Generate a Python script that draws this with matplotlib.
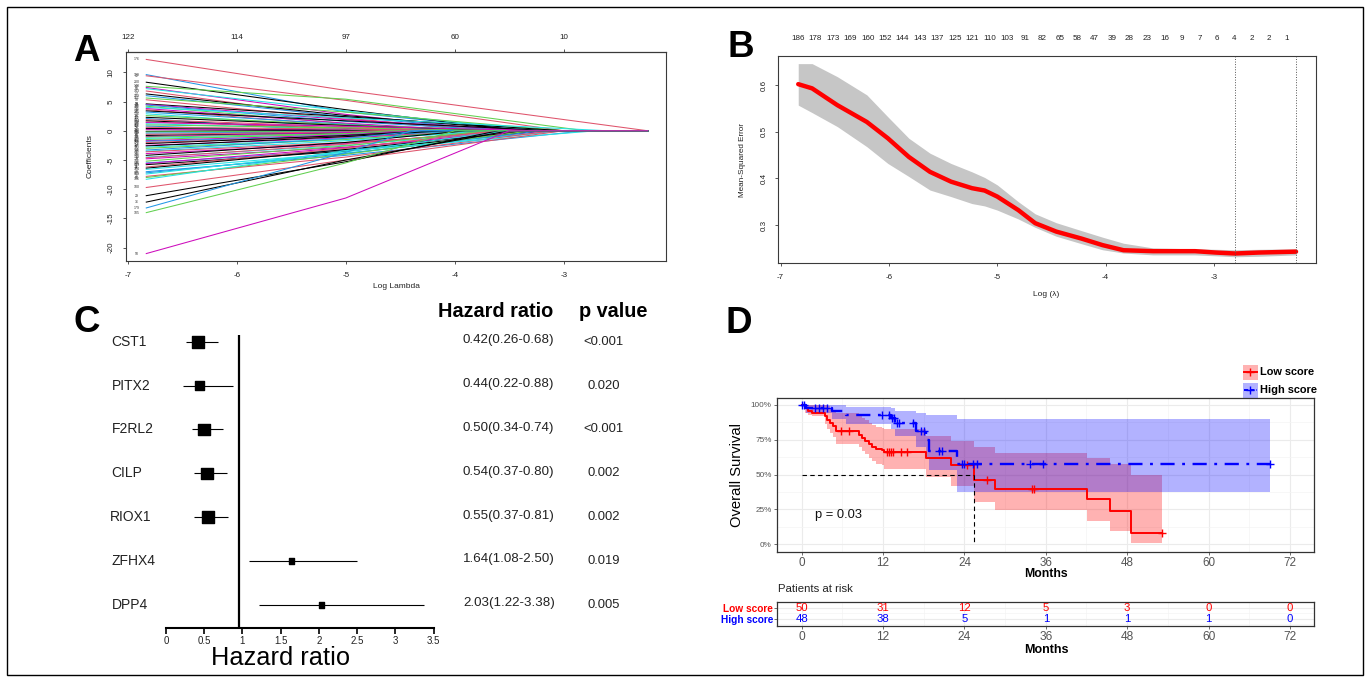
#!/usr/bin/env python3
"""Four-panel figure: LASSO paths, CV error, Cox forest plot and KM curves."""

import matplotlib
matplotlib.use("Agg")
import matplotlib.pyplot as plt
import numpy as np
from matplotlib.patches import Rectangle
from matplotlib.ticker import MultipleLocator
from matplotlib.transforms import blended_transform_factory

plt.rcParams["font.family"] = ["Liberation Sans", "DejaVu Sans"]
plt.rcParams["axes.unicode_minus"] = False

# ---------------- panel A: lasso coefficient paths ----------------
LASSO_FIRST = -6.83
LASSO_LAST = -2.23
COEF_START = [12.2, 9.6, 9.4, 8.3, 7.6, 7.4, 7.2, 6.8, 6.3, 6.0, 5.6, 5.3, 4.6, 4.5, 4.4, 4.2,
              4.0, 3.8, 3.6, 3.4, 3.2, 2.9, 2.6, 2.3, 2.1, 1.9, 1.7, 1.5, 1.4, 1.2, 1.0, 0.8,
              0.6, 0.4, 0.2, 0.0, -0.1, -0.2, -0.4, -0.6, -0.8, -1.0, -1.1, -1.3, -1.5, -1.7,
              -1.8, -2.0, -2.2, -2.5, -2.6, -2.8, -3.0, -3.3, -3.5, -3.6, -3.9, -4.2, -4.5,
              -4.6, -4.8, -5.2, -5.5, -5.6, -5.8, -6.2, -6.4, -6.6, -7.0, -7.2, -7.4, -7.8,
              -8.0, -8.3, -9.7, -11.1, -12.2, -13.2, -14.0, -21.0]
COEF_AT_M5 = [6.9, 3.2, 5.2, 3.6, 5.4, 2.8, 3.4, 2.2, 2.6, 2.4, 3.2, 2.0, 2.4, 1.9, 1.6, 1.2,
              2.2, 1.3, 0.9, 1.7, 1.1, 0.6, 1.0, 0.9, 0.0, 0.7, 0.4, 0.5, 0.8, 0.3, 0.5, 0.0,
              0.3, 0.1, 0.1, 0.0, 0.0, -0.1, -0.2, -0.2, -0.4, -0.3, -0.5, -0.6, -0.5, -0.7,
              -0.9, -1.0, -0.8, -1.2, -1.0, -1.4, -1.5, -1.3, -1.7, -2.0, -2.2, -2.0, -2.5,
              -2.3, -2.8, -2.6, -3.3, -2.9, -3.5, -3.0, -3.2, -3.8, -4.2, -3.9, -3.6, -4.5,
              -4.0, -3.4, -5.0, -5.3, -5.0, -3.7, -5.5, -11.5]
COEF_ZERO_AT = [-2.23, -3.3, -3.0, -3.4, -2.8, -3.6, -3.2, -3.8, -3.3, -3.5, -3.0, -3.6, -3.0,
                -3.3, -3.5, -4.0, -2.6, -3.8, -4.2, -3.1, -3.9, -4.3, -3.5, -3.6, -5.2, -4.0,
                -4.5, -4.1, -3.2, -4.6, -3.6, -5.4, -4.0, -4.9, -3.4, -6.0, -5.8, -4.5, -3.8,
                -4.7, -3.5, -4.4, -4.0, -3.9, -4.6, -4.3, -3.7, -3.3, -4.2, -3.6, -4.1, -3.4,
                -3.8, -4.3, -3.7, -3.2, -3.5, -3.9, -3.4, -3.6, -3.1, -3.7, -3.0, -3.4, -3.2,
                -3.6, -3.3, -3.0, -2.8, -3.2, -3.5, -3.1, -3.3, -2.7, -3.0, -3.6, -3.5, -4.4,
                -4.0, -3.5]
COEF_LABELS = [176, 129, 12, 200, 148, 57, 88, 143, 17, 189, 161, 99, 33, 58, 72, 190, 64, 121,
               9, 45, 141, 136, 81, 90, 112, 27, 154, 170, 93, 40, 167, 118, 6, 75, 183, 52, 41,
               101, 139, 22, 68, 195, 25, 14, 127, 116, 86, 158, 3, 110, 47, 61, 172, 38, 180,
               97, 145, 19, 133, 8, 70, 186, 48, 149, 123, 11, 66, 164, 79, 131, 151, 31, 55,
               106, 100, 29, 36, 179, 105, 50]
COEF_COLOR_IDX = [1, 3, 1, 0, 2, 5, 4, 1, 0, 3, 2, 1, 0, 5, 3, 2, 4, 5, 1, 0, 3, 4, 2, 0, 3, 1,
                  0, 1, 5, 4, 2, 3, 1, 0, 5, 4, 0, 2, 3, 1, 0, 5, 2, 4, 2, 5, 3, 1, 0, 5, 0, 4,
                  2, 3, 4, 1, 5, 0, 4, 1, 5, 2, 3, 5, 0, 1, 0, 4, 3, 3, 4, 1, 2, 4, 1, 0, 0, 3,
                  2, 5]
TOP_A_TICKS = [-7, -6, -5, -4, -3]
TOP_A_LABELS = ["122", "114", "97", "60", "10"]

# ---------------- panel B: cross-validated error ----------------
CV_LOG_LAMBDA = [-6.837, -6.709, -6.476, -6.204, -6.01, -5.816, -5.621, -5.427, -5.233, -5.117,
                 -5.0, -4.806, -4.65, -4.456, -4.223, -4.029, -3.835, -3.563, -3.175, -2.981,
                 -2.806, -2.592, -2.243]
CV_MSE = [0.602, 0.593, 0.557, 0.521, 0.486, 0.446, 0.414, 0.393, 0.379, 0.374, 0.361, 0.332,
          0.304, 0.286, 0.271, 0.257, 0.246, 0.244, 0.244, 0.241, 0.239, 0.241, 0.243]
CV_UPPER = [0.646, 0.646, 0.618, 0.579, 0.532, 0.486, 0.454, 0.432, 0.414, 0.402, 0.386, 0.35,
            0.324, 0.305, 0.288, 0.274, 0.261, 0.251, 0.249, 0.248, 0.247, 0.248, 0.249]
CV_LOWER = [0.557, 0.541, 0.511, 0.468, 0.432, 0.404, 0.375, 0.361, 0.346, 0.341, 0.332, 0.313,
            0.295, 0.276, 0.26, 0.247, 0.24, 0.236, 0.236, 0.234, 0.232, 0.233, 0.236]
CV_NZERO = ["186", "178", "173", "169", "160", "152", "144", "143", "137", "125", "121", "110",
            "103", "91", "82", "65", "58", "47", "39", "28", "23", "16", "9", "7", "6", "4",
            "2", "2", "1"]
NZERO_FIRST, NZERO_LAST = -6.84, -2.33
LAMBDA_MIN = -2.805
LAMBDA_1SE = -2.24

# ---------------- panel C: forest plot ----------------
GENES = ["CST1", "PITX2", "F2RL2", "CILP", "RIOX1", "ZFHX4", "DPP4"]
HR = [0.42, 0.44, 0.50, 0.54, 0.55, 1.64, 2.03]
HR_LOW = [0.26, 0.22, 0.34, 0.37, 0.37, 1.08, 1.22]
HR_HIGH = [0.68, 0.88, 0.74, 0.80, 0.81, 2.50, 3.38]
P_VALUES = ["<0.001", "0.020", "<0.001", "0.002", "0.002", "0.019", "0.005"]
BOX_SIZES = [8.6, 6.3, 8.6, 8.4, 8.4, 4.0, 3.7]
REF_LINE = 0.955

# ---------------- panel D: Kaplan-Meier ----------------
LOW_TIME = [0, 0.5, 1.0, 1.5, 3.4, 3.8, 4.2, 4.6, 5.0, 8.4, 8.9, 9.4, 9.9, 10.4, 11.0, 11.8,
            12.2, 18.3, 22.0, 25.4, 28.5, 42.1, 45.4, 48.6]
LOW_SURV = [1.0, 0.98, 0.96, 0.94, 0.918, 0.894, 0.87, 0.846, 0.81, 0.788, 0.766, 0.744, 0.72,
            0.698, 0.686, 0.676, 0.664, 0.62, 0.57, 0.46, 0.40, 0.323, 0.241, 0.083]
LOW_UPPER = [1.0, 1.0, 1.0, 1.0, 1.0, 0.99, 0.98, 0.965, 0.94, 0.925, 0.91, 0.89, 0.87, 0.855,
             0.845, 0.835, 0.825, 0.78, 0.745, 0.70, 0.653, 0.62, 0.576, 0.497]
LOW_LOWER = [1.0, 0.94, 0.93, 0.92, 0.86, 0.83, 0.80, 0.77, 0.72, 0.70, 0.67, 0.645, 0.62,
             0.595, 0.58, 0.57, 0.54, 0.485, 0.42, 0.306, 0.246, 0.167, 0.098, 0.012]
LOW_END = 53.1
LOW_CENSOR = [5.8, 7.0, 12.6, 12.9, 13.2, 13.5, 14.6, 15.5, 24.4, 27.3, 33.9, 34.3, 53.1]

HIGH_TIME = [0, 0.6, 4.4, 6.5, 13.2, 13.7, 16.8, 18.4, 18.8, 22.9]
HIGH_SURV = [1.0, 0.979, 0.957, 0.928, 0.904, 0.868, 0.813, 0.75, 0.672, 0.576]
HIGH_UPPER = [1.0, 1.0, 1.0, 0.988, 0.975, 0.955, 0.94, 0.925, 0.925, 0.897]
HIGH_LOWER = [1.0, 0.94, 0.90, 0.86, 0.83, 0.78, 0.70, 0.62, 0.53, 0.375]
HIGH_END = 69.0
HIGH_CENSOR = [0.1, 0.3, 2.0, 2.6, 3.1, 3.7, 11.8, 12.9, 13.3, 13.6, 14.0, 14.4, 16.4, 17.6,
               18.0, 20.2, 20.7, 23.6, 24.0, 25.2, 25.9, 33.7, 35.6, 69.0]
MEDIAN_LOW = 25.4
P_LOGRANK = "p = 0.03"

RISK_TIMES = [0, 12, 24, 36, 48, 60, 72]
RISK_LOW = [50, 31, 12, 5, 3, 0, 0]
RISK_HIGH = [48, 38, 5, 1, 1, 1, 0]

R_PALETTE = ["black", "#DF536B", "#61D04F", "#2297E6", "#28E2E5", "#CD0BBC"]
W, H = 1370, 682


def px_axes(fig, left, top, right, bottom, **kw):
    return fig.add_axes([left / W, 1 - bottom / H, (right - left) / W, (bottom - top) / H], **kw)


def r_style(ax):
    for sp in ax.spines.values():
        sp.set_color("#3a3a3a")
        sp.set_linewidth(0.8)
    ax.tick_params(length=2.5, width=0.6, color="#3a3a3a", labelsize=5.8, labelcolor="#222222",
                   pad=5.5)
    for lab in ax.get_yticklabels():
        lab.set_rotation(90)
        lab.set_va("center")


def step_at(times, values, t):
    idx = np.searchsorted(times, t, side="right") - 1
    return np.asarray(values)[idx]


fig = plt.figure(figsize=(W / 100, H / 100), dpi=100)
ov = fig.add_axes([0, 0, 1, 1], zorder=10)
ov.set_xlim(0, W)
ov.set_ylim(H, 0)
ov.axis("off")
ov.add_patch(Rectangle((7, 7), W - 14, H - 14, fill=False, lw=1.0, ec="black"))

letter_kw = dict(fontsize=26.5, fontweight="bold", va="baseline", ha="left")
ov.text(72.7, 60.7, "A", **letter_kw)
ov.text(728, 56.7, "B", **letter_kw)
ov.text(73.8, 331.7, "C", **letter_kw)
ov.text(726, 333, "D", **letter_kw)

# ---- A ----
axA = px_axes(fig, 126, 51.7, 666.3, 260.7)
for y0, ym, xz, lab, ci in zip(COEF_START, COEF_AT_M5, COEF_ZERO_AT, COEF_LABELS, COEF_COLOR_IDX):
    if xz > -5:
        xs, ys = [LASSO_FIRST, -5, xz, LASSO_LAST], [y0, ym, 0, 0]
    else:
        xs, ys = [LASSO_FIRST, xz, LASSO_LAST], [y0, 0, 0]
    axA.plot(xs, ys, color=R_PALETTE[ci], lw=0.75)
    axA.text(-6.917, y0, str(lab), fontsize=2.5, ha="center", va="center", color="#333333")
axA.set_xlim(-7.016, -2.059)
axA.set_ylim(-22.22, 13.52)
axA.set_xticks([-7, -6, -5, -4, -3])
axA.set_yticks([-20, -15, -10, -5, 0, 5, 10])
r_style(axA)
secA = axA.secondary_xaxis("top")
secA.set_xticks(TOP_A_TICKS, labels=TOP_A_LABELS)
secA.tick_params(length=2.5, width=0.6, color="#3a3a3a", labelsize=5.8, labelcolor="#222222",
                 pad=5.5)
ov.text(396, 287, "Log Lambda", fontsize=6, ha="center", va="center", color="#222222")
ov.text(90, 156.5, "Coefficients", fontsize=6, ha="center", va="center", rotation=90,
        color="#222222")

# ---- B ----
axB = px_axes(fig, 778.4, 55.7, 1316.3, 263.3)
axB.fill_between(CV_LOG_LAMBDA, CV_LOWER, CV_UPPER, color="#C6C6C6", lw=0)
axB.plot(CV_LOG_LAMBDA, CV_MSE, color="red", lw=3.2, solid_capstyle="round")
axB.axvline(LAMBDA_MIN, color="#555555", ls=":", lw=0.7)
axB.axvline(LAMBDA_1SE, color="#555555", ls=":", lw=0.7)
axB.set_xlim(-7.02, -2.056)
axB.set_ylim(0.218, 0.663)
axB.set_xticks([-7, -6, -5, -4, -3])
axB.set_yticks([0.3, 0.4, 0.5, 0.6])
r_style(axB)
secB = axB.secondary_xaxis("top")
secB.set_xticks(np.linspace(NZERO_FIRST, NZERO_LAST, len(CV_NZERO)), labels=CV_NZERO)
secB.tick_params(length=0, labelsize=5.8, labelcolor="#222222", pad=10)
secB.spines["top"].set_visible(False)
ov.text(1046, 295, "Log (λ)", fontsize=6, ha="center", va="center", color="#222222")
ov.text(742.6, 160, "Mean-Squared Error", fontsize=5.9, ha="center", va="center", rotation=90,
        color="#222222")

# ---- C ----
axC = px_axes(fig, 166, 335, 433.5, 628.3)
rows = np.arange(len(GENES))
axC.hlines(rows, HR_LOW, HR_HIGH, color="black", lw=0.8)
axC.scatter(HR, rows, marker="s", s=np.asarray(BOX_SIZES) ** 2, color="black", zorder=3)
axC.axvline(REF_LINE, color="black", lw=1.6)
axC.set_xlim(0, 3.5)
axC.set_ylim(6.53, -0.153)
for side in ("left", "top", "right"):
    axC.spines[side].set_visible(False)
axC.spines["bottom"].set_linewidth(1.5)
axC.set_yticks([])
axC.set_xticks(np.arange(0, 3.51, 0.5), labels=["0", "0.5", "1", "1.5", "2", "2.5", "3", "3.5"])
axC.tick_params(axis="x", length=4, width=1.2, labelsize=7, pad=1.5, labelcolor="#222222")
tr = blended_transform_factory(ov.transData, axC.transData)
for i, (g, h, lo, hi, p) in enumerate(zip(GENES, HR, HR_LOW, HR_HIGH, P_VALUES)):
    gx = 109.5 if g == "RIOX1" else 111.4
    axC.text(gx, i, g, transform=tr, fontsize=10, ha="left", va="center", color="#222222")
    axC.text(463, i - 0.04, f"{h:.2f}({lo:.2f}-{hi:.2f})", transform=tr, fontsize=9.6,
             ha="left", va="center", color="#222222")
    axC.text(603.5, i, p, transform=tr, fontsize=9.4, ha="center", va="center", color="#222222")
ov.text(438, 311.7, "Hazard ratio", fontsize=14.3, fontweight="bold", ha="left", va="center")
ov.text(579, 311.7, "p value", fontsize=14.3, fontweight="bold", ha="left", va="center")
ov.text(281, 658, "Hazard ratio", fontsize=18.3, ha="center", va="center")

# ---- D: KM ----
axD = px_axes(fig, 777.3, 398.3, 1314.3, 551.7)
groups = [
    (LOW_TIME, LOW_SURV, LOW_UPPER, LOW_LOWER, LOW_END, LOW_CENSOR, "#FF0000", "-"),
    (HIGH_TIME, HIGH_SURV, HIGH_UPPER, HIGH_LOWER, HIGH_END, HIGH_CENSOR, "#0000FF", (0, (6, 3.2, 1.2, 3.2))),
]
for t, s, up, lo, end, cens, col, ls in groups:
    te = np.append(t, end)
    axD.fill_between(te, np.append(lo, lo[-1]), np.append(up, up[-1]), step="post",
                     color=col, alpha=0.3, lw=0)
    axD.step(te, np.append(s, s[-1]), where="post", color=col,
             lw=1.4 if ls == "-" else 1.7, ls=ls)
    axD.plot(cens, step_at(t, s, cens), ls="none", marker="+", ms=6, mew=1.0, color=col)
axD.plot([0, MEDIAN_LOW], [0.5, 0.5], color="black", ls="--", lw=0.8, dashes=(4, 3))
axD.plot([MEDIAN_LOW, MEDIAN_LOW], [0.5, 0], color="black", ls="--", lw=0.8, dashes=(4, 3))
axD.text(2, 0.21, P_LOGRANK, fontsize=9.3, ha="left", va="center", color="#111111")
axD.set_xlim(-3.6, 75.6)
axD.set_ylim(-0.053, 1.048)
axD.set_xticks(RISK_TIMES)
axD.set_yticks([0, 0.25, 0.5, 0.75, 1.0], labels=["0%", "25%", "50%", "75%", "100%"])
axD.xaxis.set_minor_locator(MultipleLocator(6))
axD.yaxis.set_minor_locator(MultipleLocator(0.125))
axD.grid(which="major", color="#EBEBEB", lw=0.8)
axD.grid(which="minor", color="#F4F4F4", lw=0.5)
axD.set_axisbelow(True)
for sp in axD.spines.values():
    sp.set_color("#333333")
    sp.set_linewidth(0.9)
axD.tick_params(which="minor", length=0)
axD.tick_params(axis="x", length=2.5, width=0.6, color="#555555", labelsize=8.4,
                labelcolor="#555555", pad=1.6)
axD.tick_params(axis="y", length=2.5, width=0.6, color="#555555", labelsize=5.9,
                labelcolor="#555555", pad=1.5)
ov.text(1046, 574, "Months", fontsize=8.8, fontweight="bold", ha="center", va="center")
ov.text(736.7, 475, "Overall Survival", fontsize=10.6, ha="center", va="center", rotation=90)

# legend
for (ytop, col, lab, ls) in [(365, "#FF0000", "Low score", "-"), (382.7, "#0000FF", "High score", "--")]:
    ov.add_patch(Rectangle((1243.3, ytop), 14.4, 14.8, color=col, alpha=0.3, lw=0))
    yc = ytop + 7.4
    ov.plot([1244.3, 1256.7], [yc, yc], color=col, lw=1.4, ls=ls, dashes=(2.2, 1.0) if ls == "--" else (None, None))
    ov.plot([1250.5], [yc], marker="+", ms=6, mew=1.0, color=col)
    ov.text(1260, yc, lab, fontsize=7.9, fontweight="bold", ha="left", va="center")

# risk table
axR = px_axes(fig, 777.3, 602.3, 1314.3, 626)
for t, a, b in zip(RISK_TIMES, RISK_LOW, RISK_HIGH):
    axR.text(t, 1, str(a), color="#FF0000", fontsize=8.2, ha="center", va="center")
    axR.text(t, 0, str(b), color="#0000FF", fontsize=8.2, ha="center", va="center")
axR.set_xlim(-3.6, 75.6)
axR.set_ylim(-0.66, 1.49)
axR.set_xticks(RISK_TIMES)
axR.set_yticks([1, 0], labels=["Low score", "High score"])
axR.xaxis.set_minor_locator(MultipleLocator(6))
axR.yaxis.set_minor_locator(MultipleLocator(0.5))
axR.grid(which="major", color="#EBEBEB", lw=0.8)
axR.grid(which="minor", color="#F4F4F4", lw=0.5)
axR.set_axisbelow(True)
for sp in axR.spines.values():
    sp.set_color("#333333")
    sp.set_linewidth(0.9)
axR.tick_params(which="minor", length=0)
axR.tick_params(axis="x", length=2.5, width=0.6, color="#555555", labelsize=8.6,
                labelcolor="#555555", pad=0.8)
axR.tick_params(axis="y", length=2, width=0.6, color="#555555", labelsize=7.3, pad=1)
for lab, col in zip(axR.get_yticklabels(), ["#FF0000", "#0000FF"]):
    lab.set_color(col)
    lab.set_fontweight("bold")
ov.text(777.7, 589, "Patients at risk", fontsize=8.2, ha="left", va="center", color="#222222")
ov.text(1046, 650, "Months", fontsize=9, fontweight="bold", ha="center", va="center")

fig.savefig("out.png", dpi=100)
